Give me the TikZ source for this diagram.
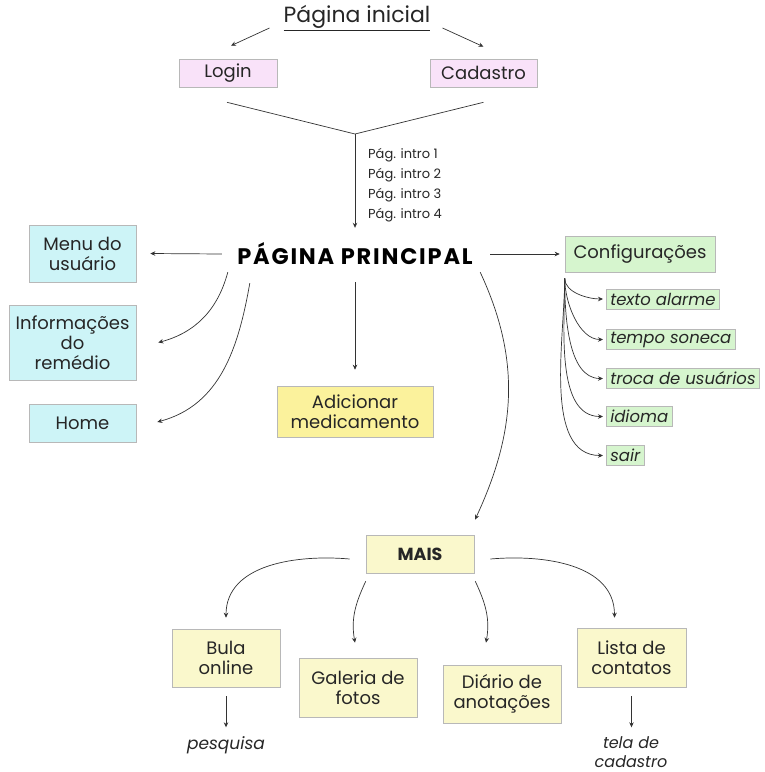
\documentclass[tikz,border=0pt]{standalone}
\usepackage{fontspec}
\setmainfont{Poppins}
\usetikzlibrary{arrows.meta,calc}
\definecolor{cpink}{HTML}{F9E2F9}
\definecolor{ccyan}{HTML}{CDF4F7}
\definecolor{cgreen}{HTML}{D6F5CE}
\definecolor{cyel}{HTML}{FBF29C}
\definecolor{cpale}{HTML}{FAF8CC}
\definecolor{cline}{HTML}{333333}
\definecolor{cedge}{HTML}{B8B8B8}
\begin{document}
\begin{tikzpicture}[x=1pt,y=1pt,
  box/.style={draw=cedge,line width=0.6pt,inner sep=0pt,align=center,
    font=\fontsize{18}{20}\selectfont,text=black!85},
  sub/.style={draw=cedge,line width=0.5pt,fill=cgreen,anchor=west,inner xsep=4pt,
    inner ysep=0pt,minimum height=20pt,font=\fontsize{16.5}{18}\selectfont\itshape,text=black!85},
  arr/.style={draw=cline,line width=0.7pt,-{Stealth[length=5pt,width=4.5pt]}},
  ln/.style={draw=cline,line width=0.7pt},
  intro/.style={anchor=west,inner sep=0pt,font=\fontsize{13}{14}\selectfont,text=black!85},
  lbl/.style={inner sep=0pt,align=center,font=\fontsize{17}{19}\selectfont\itshape,text=black!85}
]
\useasboundingbox (0,0) rectangle (765,-772);

% top
\node[inner sep=0pt,font=\fontsize{22}{26}\selectfont,text=black!85] (pinit) at (357,-18) {\underline{Página inicial}};
\node[box,fill=cpink,minimum width=98pt,minimum height=28pt] (login) at (228,-73) {Login};
\node[box,fill=cpink,minimum width=107pt,minimum height=28pt] (cadastro) at (483.5,-73) {Cadastro};
\draw[arr] ($(pinit.west)+(-14,-10)$) -- ($(login.north)+(3,13)$);
\draw[arr] ($(pinit.east)+(12,-10)$) -- ($(cadastro.north)+(0,12)$);
\coordinate (j) at (355,-134);
\draw[ln] ($(login.south)+(-1,-15)$) -- (j) -- ($(cadastro.south)+(0,-15)$);

\node[intro] (i1) at (368,-155) {Pág. intro 1};
\node[intro] (i2) at (368,-175) {Pág. intro 2};
\node[intro] (i3) at (368,-195) {Pág. intro 3};
\node[intro] (i4) at (368,-215) {Pág. intro 4};

% main
\node[inner sep=0pt,minimum width=250pt,minimum height=40pt,font=\fontsize{22.5}{24}\selectfont\bfseries\addfontfeatures{LetterSpace=8}] (principal) at (355,-254) {PÁGINA PRINCIPAL};
\draw[arr] (j) -- ($(principal.north)+(0,6)$);

% left
\node[box,fill=ccyan,minimum width=107pt,minimum height=57pt] (menu) at (82.5,-253.5) {Menu do\\usuário};
\node[box,fill=ccyan,minimum width=127pt,minimum height=75pt] (info) at (72.5,-342.5) {Informações\\do\\remédio};
\node[box,fill=ccyan,minimum width=107pt,minimum height=38pt] (home) at (82.5,-423) {Home};
\draw[arr] ($(principal.west)+(-8,0)$) -- ($(menu.east)+(14,0)$);
\draw[arr] ($(principal.south west)+(-2,2)$) to[out=-105,in=15] ($(info.east)+(22,0)$);
\draw[arr] ($(principal.south west)+(20,-9)$) to[out=-100,in=15] ($(home.east)+(21,1)$);

% centre
\node[box,fill=cyel,minimum width=156pt,minimum height=51pt] (adic) at (355,-411.5) {Adicionar\\medicamento};
\draw[arr] ($(principal.south)+(0,-8)$) -- ($(adic.north)+(0,16)$);

% right
\node[box,fill=cgreen,minimum width=150pt,minimum height=36pt] (config) at (640,-254) {Configurações};
\draw[arr] ($(principal.east)+(10,0)$) -- ($(config.west)+(-5,0)$);
\node[sub] (s1) at (606,-299) {texto alarme};
\node[sub] (s2) at (606,-339.5) {tempo soneca};
\node[sub] (s3) at (606,-378.5) {troca de usuários};
\node[sub] (s4) at (606,-416.5) {idioma};
\node[sub] (s5) at (606,-455.5) {sair};
\coordinate (cs) at ($(config.south west)+(0,-6)$);
\foreach \s in {s1,s2,s3,s4,s5}{
  \draw[arr] (cs) to[out=-90,in=180,looseness=0.85] ($(\s.west)+(-3,0)$);
}

% MAIS
\node[box,fill=cpale,minimum width=108pt,minimum height=38pt,font=\fontsize{17.5}{20}\selectfont\bfseries] (mais) at (420,-554) {MAIS};
\draw[arr] ($(principal.south east)+(0,2)$) to[out=-65,in=65] ($(mais.north)+(55,15)$);

\node[box,fill=cpale,minimum width=108pt,minimum height=58pt] (bula) at (226,-658) {Bula\\online};
\node[box,fill=cpale,minimum width=118pt,minimum height=59pt] (galeria) at (358,-687.5) {Galeria de\\fotos};
\node[box,fill=cpale,minimum width=118pt,minimum height=58pt] (diario) at (502,-694) {Diário de\\anotações};
\node[box,fill=cpale,minimum width=109pt,minimum height=59pt] (lista) at (631.5,-657.5) {Lista de\\contatos};

\draw[arr] ($(mais.west)+(-16,-5)$) to[out=175,in=90] ($(bula.north)+(0,11)$);
\draw[arr] ($(mais.south west)+(0,-8)$) to[out=-115,in=100] ($(galeria.north)+(-3,15)$);
\draw[arr] ($(mais.south east)+(1,-8)$) to[out=-65,in=80] ($(diario.north)+(-16,22)$);
\draw[arr] ($(mais.east)+(16,-5)$) to[out=5,in=90] ($(lista.north)+(-17,10)$);

\node[lbl] (pesq) at (226,-745) {pesquisa};
\node[lbl,font=\fontsize{16}{19}\selectfont\itshape] (tela) at (631,-752) {tela de\\cadastro};
\draw[arr] ($(bula.south)+(0,-9)$) -- ($(bula.south)+(0,-40)$);
\draw[arr] ($(lista.south)+(0,-9)$) -- ($(lista.south)+(0,-40)$);
\end{tikzpicture}
\end{document}
